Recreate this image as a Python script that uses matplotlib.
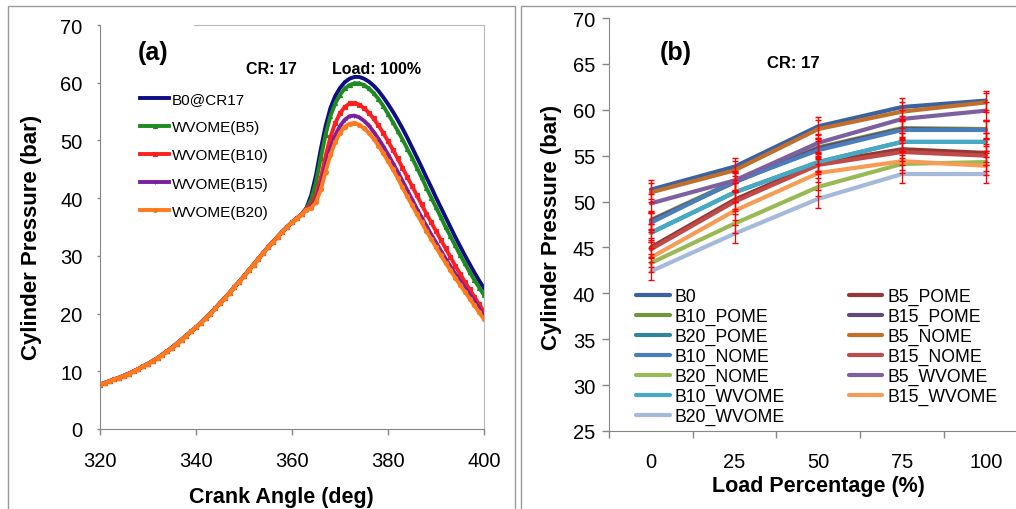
import matplotlib
matplotlib.use("Agg")
import matplotlib.pyplot as plt
from matplotlib.patches import Rectangle

plt.rcParams['font.family'] = ['Liberation Sans', 'DejaVu Sans']

# ---------------- Panel (a) data ----------------
shared_angle = list(range(320, 363))
shared_p = [7.7, 8.0, 8.3, 8.6, 8.9, 9.25, 9.6, 10.0, 10.4, 10.85,
            11.3, 11.8, 12.3, 12.9, 13.5, 14.1, 14.8, 15.5, 16.2, 16.9,
            17.6, 18.4, 19.2, 20.0, 20.9, 21.8, 22.7, 23.6, 24.6, 25.5,
            26.5, 27.5, 28.5, 29.5, 30.5, 31.5, 32.4, 33.3, 34.2, 35.0,
            35.8, 36.5, 37.2]
tail_angle = list(range(363, 401))
b0_tail = [38.3, 40.5, 44.0, 48.5, 52.5, 55.6, 57.7, 59.1, 60.1, 60.7,
           61.0, 61.0, 60.7, 60.2, 59.5, 58.6, 57.5, 56.3, 55.0, 53.6,
           52.1, 50.5, 48.8, 47.1, 45.4, 43.6, 41.9, 40.1, 38.4, 36.7,
           35.0, 33.3, 31.7, 30.1, 28.6, 27.1, 25.7, 24.4]
b5_tail = [38.2, 39.8, 42.8, 47.0, 51.0, 54.2, 56.4, 57.9, 59.0, 59.6,
           59.9, 59.9, 59.6, 59.0, 58.2, 57.2, 56.0, 54.6, 53.2, 51.7,
           50.2, 48.6, 47.0, 45.3, 43.6, 41.8, 40.1, 38.4, 36.7, 35.0,
           33.4, 31.8, 30.2, 28.7, 27.2, 25.8, 24.5, 23.2]
b10_tail = [38.1, 38.8, 40.5, 43.5, 47.3, 50.6, 53.0, 54.7, 55.8, 56.4,
            56.5, 56.2, 55.6, 54.8, 53.8, 52.6, 51.3, 49.9, 48.4, 46.9,
            45.3, 43.7, 42.1, 40.5, 38.9, 37.3, 35.8, 34.3, 32.8, 31.3,
            29.8, 28.3, 26.9, 25.5, 24.2, 22.9, 21.6, 20.3]
b15_tail = [38.0, 38.5, 39.8, 42.3, 45.6, 48.6, 50.9, 52.5, 53.6, 54.2,
            54.3, 54.0, 53.4, 52.6, 51.5, 50.3, 49.0, 47.6, 46.1, 44.6,
            43.0, 41.4, 39.8, 38.2, 36.7, 35.2, 33.7, 32.3, 30.9, 29.5,
            28.2, 26.9, 25.7, 24.5, 23.3, 22.1, 20.9, 19.6]
b20_tail = [38.0, 38.3, 39.3, 41.5, 44.6, 47.5, 49.7, 51.3, 52.4, 52.9,
            53.0, 52.7, 52.1, 51.3, 50.3, 49.1, 47.8, 46.4, 45.0, 43.5,
            41.9, 40.3, 38.8, 37.3, 35.8, 34.3, 32.9, 31.5, 30.1, 28.8,
            27.5, 26.2, 25.0, 23.8, 22.6, 21.4, 20.2, 19.0]
a_labels = ['B0@CR17', 'WVOME(B5)', 'WVOME(B10)', 'WVOME(B15)', 'WVOME(B20)']
a_tails = [b0_tail, b5_tail, b10_tail, b15_tail, b20_tail]
a_colors = ['#0d0d85', '#1f8a1f', '#ff1f1f', '#7a1fa0', '#ff7a1a']
a_markers = [None, '^', 's', '+', 'o']

# ---------------- Panel (b) data ----------------
loads = ['0', '25', '50', '75', '100']
b_names = ['B0', 'B5_POME', 'B10_POME', 'B15_POME', 'B20_POME',
           'B5_NOME', 'B10_NOME', 'B15_NOME', 'B20_NOME',
           'B5_WVOME', 'B10_WVOME', 'B15_WVOME', 'B20_WVOME']
b_values = [
    [51.3, 53.8, 58.2, 60.3, 61.0],   # B0
    [45.0, 50.2, 54.2, 55.7, 55.3],   # B5_POME
    [48.0, 52.2, 55.9, 58.0, 57.9],   # B10_POME
    [47.9, 52.1, 55.8, 57.9, 57.8],   # B15_POME
    [46.6, 51.0, 54.3, 56.5, 56.5],   # B20_POME
    [51.0, 53.4, 57.9, 59.8, 60.8],   # B5_NOME
    [47.7, 52.2, 55.6, 57.8, 57.8],   # B10_NOME
    [44.8, 50.0, 54.0, 55.4, 55.0],   # B15_NOME
    [43.3, 47.6, 51.6, 54.1, 54.3],   # B20_NOME
    [49.8, 52.3, 56.4, 59.0, 59.9],   # B5_WVOME
    [46.6, 51.0, 54.3, 56.5, 56.5],   # B10_WVOME
    [43.9, 49.0, 53.1, 54.4, 53.9],   # B15_WVOME
    [42.4, 46.5, 50.3, 53.0, 53.0],   # B20_WVOME
]
b_err = 1.0
b_colors = ['#3a62a0', '#953735', '#77933c', '#604a7b', '#31859c',
            '#c0702c', '#4a7ebb', '#be4b48', '#98b954',
            '#7d60a0', '#46aac5', '#f59d56', '#a5b9da']

fig = plt.figure(figsize=(10.16, 5.10), dpi=100)
W, H = 1016, 510

def fx(px):
    return px / W

def fy(py):
    return 1 - py / H

# panel frames
fig.add_artist(Rectangle((fx(8), -0.02), fx(515 - 8), fy(7) + 0.02,
                         transform=fig.transFigure, fill=False,
                         edgecolor='#9a9a9a', lw=1.0))
fig.add_artist(Rectangle((fx(521), -0.02), fx(1016 - 521) + 0.02, fy(7) + 0.02,
                         transform=fig.transFigure, fill=False,
                         edgecolor='#9a9a9a', lw=1.0))

# ---------------- Panel (a) ----------------
axa = fig.add_axes([fx(100), fy(430), fx(484 - 100), (430 - 26) / H])
for lab, tail, col, mk in zip(a_labels, a_tails, a_colors, a_markers):
    xs = shared_angle + tail_angle
    ys = shared_p + tail
    axa.plot(xs, ys, color=col, lw=2.8, marker=mk, markersize=3,
             markeredgewidth=0.8, label=lab)
axa.set_xlim(320, 400)
axa.set_ylim(0, 70)
axa.set_xticks([320, 340, 360, 380, 400])
axa.set_yticks(range(0, 71, 10))
axa.tick_params(axis='x', labelsize=14.5, length=4, width=1, color='#868686', pad=12)
axa.tick_params(axis='y', labelsize=14.5, length=2.5, width=1, color='#868686', pad=10)
for s in ['left', 'bottom']:
    axa.spines[s].set_color('#868686')
for s in ['top', 'right']:
    axa.spines[s].set_color('#b8b8b8')
axa.spines['top'].set_bounds(339.5, 400)
axa.set_xlabel('Crank Angle (deg)', fontsize=15.5, fontweight='bold')
axa.xaxis.set_label_coords((281 - 100) / 384, -(498 - 430) / 404)
axa.xaxis.label.set_va('center')
axa.set_ylabel('Cylinder Pressure (bar)', fontsize=16, fontweight='bold')
axa.yaxis.set_label_coords(-(100 - 32) / 384, (430 - 237) / 404)
axa.yaxis.label.set_va('center')
fig.text(fx(153), fy(53), '(a)', fontsize=18, fontweight='bold', ha='center', va='center')
fig.text(fx(271), fy(70), 'CR: 17', fontsize=11.5, fontweight='bold', ha='center', va='center')
fig.text(fx(377), fy(70), 'Load: 100%', fontsize=11.5, fontweight='bold', ha='center', va='center')
axa.legend(loc='upper left', bbox_to_anchor=(fx(140), fy(93)),
           bbox_transform=fig.transFigure, frameon=False, fontsize=11,
           handlelength=1.9, handletextpad=0.2, labelspacing=0.93,
           borderaxespad=0, borderpad=0, markerscale=1.0)

# ---------------- Panel (b) ----------------
axb = fig.add_axes([fx(609), fy(432), fx(1015 - 609), (432 - 19) / H])
xpos = list(range(len(loads)))
handles = []
for name, vals, col in zip(b_names, b_values, b_colors):
    h, = axb.plot(xpos, vals, color=col, lw=3.0, label=name, zorder=2,
                  solid_capstyle='round')
    handles.append(h)
for vals in b_values:
    axb.errorbar(xpos, vals, yerr=b_err, fmt='none', ecolor='#ff0000',
                 elinewidth=0.9, capsize=2.5, capthick=1.0, zorder=3)
axb.set_xlim(-0.5, 4.35)
axb.set_ylim(25, 70)
axb.set_yticks(range(25, 71, 5))
axb.set_xticks(xpos)
axb.set_xticklabels(loads)
axb.set_xticks([-0.5, 0.5, 1.5, 2.5, 3.5], minor=True)
axb.tick_params(axis='x', which='major', length=0, labelsize=14.5, pad=15)
axb.tick_params(axis='x', which='minor', length=5, width=1, color='#868686')
axb.tick_params(axis='y', labelsize=14.5, length=5, width=1, color='#868686', pad=5)
for s in ['top', 'right']:
    axb.spines[s].set_visible(False)
for s in ['left', 'bottom']:
    axb.spines[s].set_color('#868686')
axb.set_xlabel('Load Percentage (%)', fontsize=15.5, fontweight='bold')
axb.xaxis.set_label_coords((818 - 609) / 406, -(487 - 432) / 413)
axb.xaxis.label.set_va('center')
axb.set_ylabel('Cylinder Pressure (bar)', fontsize=16, fontweight='bold')
axb.yaxis.set_label_coords(-(609 - 552) / 406, (432 - 227) / 413)
axb.yaxis.label.set_va('center')
fig.text(fx(676), fy(53), '(b)', fontsize=18, fontweight='bold', ha='center', va='center')
fig.text(fx(793), fy(64), 'CR: 17', fontsize=12, fontweight='bold', ha='center', va='center')
order = [0, 2, 4, 6, 8, 10, 12, 1, 3, 5, 7, 9, 11]
axb.legend([handles[i] for i in order], [b_names[i] for i in order],
           loc='upper left', bbox_to_anchor=(fx(636), fy(289)),
           bbox_transform=fig.transFigure, ncol=2, frameon=False, fontsize=12.7,
           handlelength=1.9, handletextpad=0.3, labelspacing=0.16,
           columnspacing=3.6, borderaxespad=0, borderpad=0)

fig.savefig('out.png', dpi=100)
